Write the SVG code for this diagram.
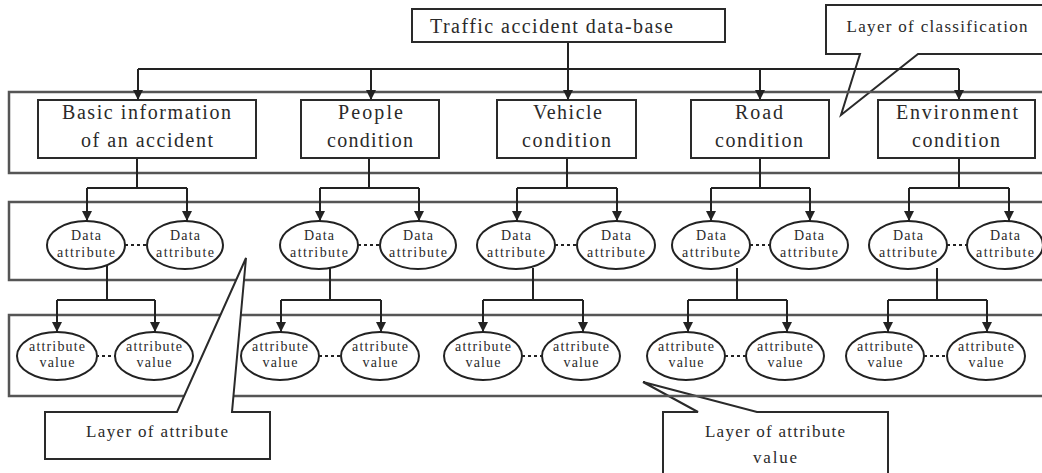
<svg xmlns="http://www.w3.org/2000/svg" width="1042" height="473" viewBox="0 0 1042 473">
<style>
text{font-family:"Liberation Serif","Times New Roman",serif;fill:#2a2a2a;text-anchor:middle}
.cat{font-size:20px}
.el{font-size:14px}
.co{font-size:17px}
.box{fill:#fff;stroke:#2a2a2a;stroke-width:2}
.band{fill:none;stroke:#555;stroke-width:2.5}
.ell{fill:#fff;stroke:#222;stroke-width:2}
.ln{fill:none;stroke:#222;stroke-width:2}
.dot{fill:none;stroke:#222;stroke-width:2;stroke-dasharray:3 3}
.call{fill:#fff;stroke:#2a2a2a;stroke-width:2}
</style>
<defs>
<marker id="ah" viewBox="0 0 10 10" refX="10" refY="5" markerWidth="10" markerHeight="10" markerUnits="userSpaceOnUse" orient="auto">
<path d="M0,0 L10,5 L0,10 Z" fill="#222"/>
</marker>
</defs>
<rect width="1042" height="473" fill="#fff"/>

<g id="callout-classification">
<path class="call" d="M826,5 H1050 V54 H918 L841,115 L860,54 H826 Z"/>
<text class="co" x="937" y="32" textLength="181" lengthAdjust="spacing">Layer of classification</text>
</g>
<g id="callout-attribute-value">
<path class="call" d="M663,412 H698 L643,382 L757,412 H888 V480 H663 Z"/>
<text class="co" x="775" y="437" textLength="140" lengthAdjust="spacing">Layer of attribute</text>
<text class="co" x="775" y="463" textLength="44" lengthAdjust="spacing">value</text>
</g>

<g id="bands">
<rect class="band" x="9" y="92" width="1050" height="81"/>
<rect class="band" x="9" y="202" width="1050" height="78"/>
<rect class="band" x="9" y="315" width="1050" height="81"/>
</g>

<g id="connectors">
<path class="ln" d="M568,42 V69"/>
<path class="ln" d="M138,69 H959"/>
<path class="ln" d="M138,69 V100" marker-end="url(#ah)"/>
<path class="ln" d="M371,69 V100" marker-end="url(#ah)"/>
<path class="ln" d="M568,69 V100" marker-end="url(#ah)"/>
<path class="ln" d="M760,69 V100" marker-end="url(#ah)"/>
<path class="ln" d="M959,69 V100" marker-end="url(#ah)"/>

<path class="ln" d="M137,158 V188 M87,188 H187"/>
<path class="ln" d="M87,188 V221" marker-end="url(#ah)"/>
<path class="ln" d="M187,188 V221" marker-end="url(#ah)"/>
<path class="ln" d="M369,158 V188 M320,188 H419"/>
<path class="ln" d="M320,188 V221" marker-end="url(#ah)"/>
<path class="ln" d="M419,188 V221" marker-end="url(#ah)"/>
<path class="ln" d="M567,158 V188 M517,188 H617"/>
<path class="ln" d="M517,188 V221" marker-end="url(#ah)"/>
<path class="ln" d="M617,188 V221" marker-end="url(#ah)"/>
<path class="ln" d="M760,158 V188 M711,188 H810"/>
<path class="ln" d="M711,188 V221" marker-end="url(#ah)"/>
<path class="ln" d="M810,188 V221" marker-end="url(#ah)"/>
<path class="ln" d="M959,158 V188 M909,188 H1009"/>
<path class="ln" d="M909,188 V221" marker-end="url(#ah)"/>
<path class="ln" d="M1009,188 V221" marker-end="url(#ah)"/>

<path class="ln" d="M107,265 V300 M57,300 H155"/>
<path class="ln" d="M57,300 V332" marker-end="url(#ah)"/>
<path class="ln" d="M155,300 V332" marker-end="url(#ah)"/>
<path class="ln" d="M330,268 V300 M281,300 H381"/>
<path class="ln" d="M281,300 V332" marker-end="url(#ah)"/>
<path class="ln" d="M381,300 V332" marker-end="url(#ah)"/>
<path class="ln" d="M533,268 V300 M483,300 H583"/>
<path class="ln" d="M483,300 V332" marker-end="url(#ah)"/>
<path class="ln" d="M583,300 V332" marker-end="url(#ah)"/>
<path class="ln" d="M737,268 V300 M688,300 H787"/>
<path class="ln" d="M688,300 V332" marker-end="url(#ah)"/>
<path class="ln" d="M787,300 V332" marker-end="url(#ah)"/>
<path class="ln" d="M937,268 V300 M888,300 H987"/>
<path class="ln" d="M888,300 V332" marker-end="url(#ah)"/>
<path class="ln" d="M987,300 V332" marker-end="url(#ah)"/>

<path class="dot" d="M125,245 H147 M358,245 H380 M555,245 H577 M750,245 H770 M947,245 H967"/>
<path class="dot" d="M96,356 H115 M319,356 H341 M522,356 H542 M725,356 H746 M924,356 H947"/>
</g>

<g id="root">
<rect class="box" x="412" y="9" width="313" height="33"/>
<text class="cat" x="551.5" y="33" textLength="243" lengthAdjust="spacing">Traffic accident data-base</text>
</g>

<g id="cat-basic">
<rect class="box" x="38" y="100" width="218" height="58"/>
<text class="cat" x="146.5" y="119" textLength="169" lengthAdjust="spacing">Basic information</text>
<text class="cat" x="147" y="147" textLength="132" lengthAdjust="spacing">of an accident</text>
</g>
<g id="cat-people">
<rect class="box" x="301" y="100" width="138" height="58"/>
<text class="cat" x="370.5" y="119" textLength="65" lengthAdjust="spacing">People</text>
<text class="cat" x="370" y="147" textLength="86" lengthAdjust="spacing">condition</text>
</g>
<g id="cat-vehicle">
<rect class="box" x="497" y="100" width="139" height="58"/>
<text class="cat" x="567.5" y="119" textLength="69" lengthAdjust="spacing">Vehicle</text>
<text class="cat" x="566.5" y="147" textLength="89" lengthAdjust="spacing">condition</text>
</g>
<g id="cat-road">
<rect class="box" x="691" y="100" width="138" height="58"/>
<text class="cat" x="759" y="119" textLength="48" lengthAdjust="spacing">Road</text>
<text class="cat" x="759" y="147" textLength="88" lengthAdjust="spacing">condition</text>
</g>
<g id="cat-environment">
<rect class="box" x="878" y="100" width="157" height="58"/>
<text class="cat" x="957" y="119" textLength="122" lengthAdjust="spacing">Environment</text>
<text class="cat" x="956" y="147" textLength="88" lengthAdjust="spacing">condition</text>
</g>

<g id="da-basic-1"><ellipse class="ell" cx="86" cy="245" rx="39" ry="24"/><text class="el" x="86" y="240" textLength="30" lengthAdjust="spacing">Data</text><text class="el" x="86" y="257" textLength="58" lengthAdjust="spacing">attribute</text></g>
<g id="da-basic-2"><ellipse class="ell" cx="185" cy="245" rx="38" ry="24"/><text class="el" x="185" y="240" textLength="30" lengthAdjust="spacing">Data</text><text class="el" x="185" y="257" textLength="58" lengthAdjust="spacing">attribute</text></g>
<g id="da-people-1"><ellipse class="ell" cx="319" cy="245" rx="39" ry="24"/><text class="el" x="319" y="240" textLength="30" lengthAdjust="spacing">Data</text><text class="el" x="319" y="257" textLength="58" lengthAdjust="spacing">attribute</text></g>
<g id="da-people-2"><ellipse class="ell" cx="418" cy="245" rx="38" ry="24"/><text class="el" x="418" y="240" textLength="30" lengthAdjust="spacing">Data</text><text class="el" x="418" y="257" textLength="58" lengthAdjust="spacing">attribute</text></g>
<g id="da-vehicle-1"><ellipse class="ell" cx="516" cy="245" rx="39" ry="24"/><text class="el" x="516" y="240" textLength="30" lengthAdjust="spacing">Data</text><text class="el" x="516" y="257" textLength="58" lengthAdjust="spacing">attribute</text></g>
<g id="da-vehicle-2"><ellipse class="ell" cx="616" cy="245" rx="39" ry="24"/><text class="el" x="616" y="240" textLength="30" lengthAdjust="spacing">Data</text><text class="el" x="616" y="257" textLength="58" lengthAdjust="spacing">attribute</text></g>
<g id="da-road-1"><ellipse class="ell" cx="711" cy="245" rx="39" ry="24"/><text class="el" x="711" y="240" textLength="30" lengthAdjust="spacing">Data</text><text class="el" x="711" y="257" textLength="58" lengthAdjust="spacing">attribute</text></g>
<g id="da-road-2"><ellipse class="ell" cx="809" cy="245" rx="39" ry="24"/><text class="el" x="809" y="240" textLength="30" lengthAdjust="spacing">Data</text><text class="el" x="809" y="257" textLength="58" lengthAdjust="spacing">attribute</text></g>
<g id="da-env-1"><ellipse class="ell" cx="908" cy="245" rx="39" ry="24"/><text class="el" x="908" y="240" textLength="30" lengthAdjust="spacing">Data</text><text class="el" x="908" y="257" textLength="58" lengthAdjust="spacing">attribute</text></g>
<g id="da-env-2"><ellipse class="ell" cx="1005" cy="245" rx="38" ry="24"/><text class="el" x="1005" y="240" textLength="30" lengthAdjust="spacing">Data</text><text class="el" x="1005" y="257" textLength="58" lengthAdjust="spacing">attribute</text></g>

<g id="av-basic-1"><ellipse class="ell" cx="57" cy="356" rx="40" ry="24"/><text class="el" x="57" y="351" textLength="56" lengthAdjust="spacing">attribute</text><text class="el" x="57" y="367" textLength="35" lengthAdjust="spacing">value</text></g>
<g id="av-basic-2"><ellipse class="ell" cx="154" cy="356" rx="39" ry="24"/><text class="el" x="154" y="351" textLength="56" lengthAdjust="spacing">attribute</text><text class="el" x="154" y="367" textLength="35" lengthAdjust="spacing">value</text></g>
<g id="av-people-1"><ellipse class="ell" cx="280" cy="356" rx="39" ry="24"/><text class="el" x="280" y="351" textLength="56" lengthAdjust="spacing">attribute</text><text class="el" x="280" y="367" textLength="35" lengthAdjust="spacing">value</text></g>
<g id="av-people-2"><ellipse class="ell" cx="380" cy="356" rx="39" ry="24"/><text class="el" x="380" y="351" textLength="56" lengthAdjust="spacing">attribute</text><text class="el" x="380" y="367" textLength="35" lengthAdjust="spacing">value</text></g>
<g id="av-vehicle-1"><ellipse class="ell" cx="483" cy="356" rx="39" ry="24"/><text class="el" x="483" y="351" textLength="56" lengthAdjust="spacing">attribute</text><text class="el" x="483" y="367" textLength="35" lengthAdjust="spacing">value</text></g>
<g id="av-vehicle-2"><ellipse class="ell" cx="581" cy="356" rx="39" ry="24"/><text class="el" x="581" y="351" textLength="56" lengthAdjust="spacing">attribute</text><text class="el" x="581" y="367" textLength="35" lengthAdjust="spacing">value</text></g>
<g id="av-road-1"><ellipse class="ell" cx="686" cy="356" rx="39" ry="24"/><text class="el" x="686" y="351" textLength="56" lengthAdjust="spacing">attribute</text><text class="el" x="686" y="367" textLength="35" lengthAdjust="spacing">value</text></g>
<g id="av-road-2"><ellipse class="ell" cx="785" cy="356" rx="39" ry="24"/><text class="el" x="785" y="351" textLength="56" lengthAdjust="spacing">attribute</text><text class="el" x="785" y="367" textLength="35" lengthAdjust="spacing">value</text></g>
<g id="av-env-1"><ellipse class="ell" cx="885" cy="356" rx="39" ry="24"/><text class="el" x="885" y="351" textLength="56" lengthAdjust="spacing">attribute</text><text class="el" x="885" y="367" textLength="35" lengthAdjust="spacing">value</text></g>
<g id="av-env-2"><ellipse class="ell" cx="986" cy="356" rx="39" ry="24"/><text class="el" x="986" y="351" textLength="56" lengthAdjust="spacing">attribute</text><text class="el" x="986" y="367" textLength="35" lengthAdjust="spacing">value</text></g>

<g id="callout-attribute">
<path class="call" d="M45,412 H177 L246,258 L232,412 H270 V459 H45 Z"/>
<text class="co" x="157" y="437" textLength="142" lengthAdjust="spacing">Layer of attribute</text>
</g>
</svg>
